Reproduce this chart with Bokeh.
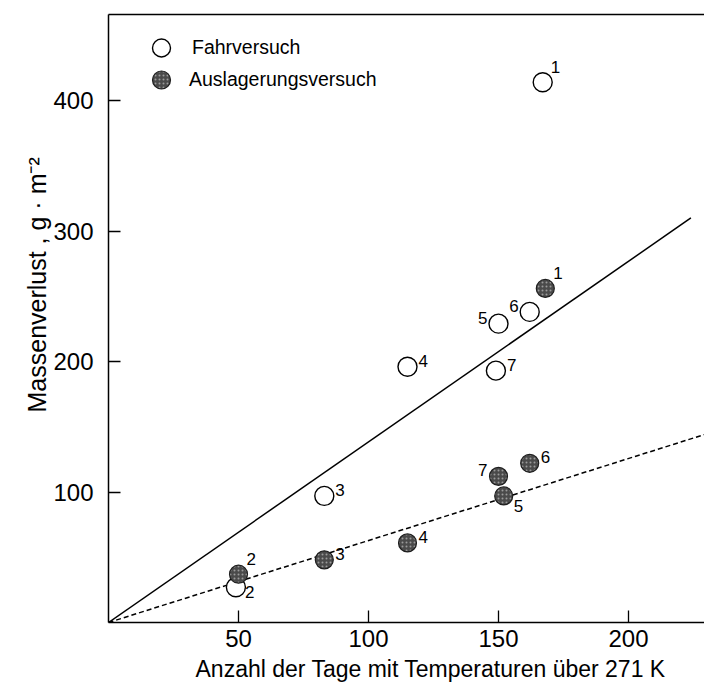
from bokeh.plotting import figure
from bokeh.models import (Range1d, LinearAxis, FixedTicker, Title, Legend,
                          LegendItem, ColumnDataSource)
from bokeh.core.properties import value
from bokeh.embed import file_html
from bokeh.resources import INLINE

# ---------------- data ----------------
fahr_id = ["1", "2", "3", "4", "5", "6", "7"]
fahr_days = [167, 49, 83, 115, 150, 162, 149]
fahr_loss = [414, 27, 97, 196, 229, 238, 193]

ausl_id = ["1", "2", "3", "4", "5", "6", "7"]
ausl_days = [168, 50, 83, 115, 152, 162, 150]
ausl_loss = [256, 37, 48, 61, 97, 122, 112]

fit_fahr_days = [0, 224]
fit_fahr_loss = [0, 310]
fit_ausl_days = [0, 230]
fit_ausl_loss = [0, 144.5]

x_ticks = [50, 100, 150, 200]
y_ticks = [100, 200, 300, 400]

series_names = ["Fahrversuch", "Auslagerungsversuch"]
x_title = "Anzahl der Tage mit Temperaturen über  271 K"
y_title = "Massenverlust , g · m⁻²"

# ---------------- styles ----------------
FONT = "Liberation Sans"
# label placement codes -> (dx, dy) in screen px, dy positive = down
offsets = {"sup": (8, -15), "r": (11, -6), "l": (-11, -6), "sub": (9, 5),
           "subr": (10, 10)}
fahr_place = {"1": "sup", "2": "sub", "3": "r", "4": "r", "5": "l", "6": "l", "7": "r"}
ausl_place = {"1": "sup", "2": "sup", "3": "r", "4": "r", "5": "subr", "6": "r", "7": "l"}


def label_source(ids, xs, ys, place):
    dx = [offsets[place[i]][0] for i in ids]
    dy = [offsets[place[i]][1] for i in ids]
    align = ["right" if d < 0 else "left" for d in dx]
    return ColumnDataSource(dict(x=xs, y=ys, t=ids, dx=dx, dy=dy, align=align))


W, H = 704, 691
BL, BT, BB = 108, 14, 69
p = figure(width=W, height=H, output_backend="svg", toolbar_location=None,
           x_range=Range1d(0, (W - BL) / 2.6), y_range=Range1d(0, (H - BT - BB) / 1.305),
           min_border_left=BL, min_border_right=0, min_border_top=BT,
           min_border_bottom=BB)
p.outline_line_color = None
p.grid.visible = False
p.background_fill_color = "white"

# fit lines
p.line(fit_fahr_days, fit_fahr_loss, line_color="black", line_width=1.5)
p.line(fit_ausl_days, fit_ausl_loss, line_color="black", line_width=1.5,
       line_dash="5 3")

# points
r_open = p.scatter(fahr_days, fahr_loss, size=19, marker="circle",
                   fill_color="white", line_color="black", line_width=1.4)
r_fill = p.scatter(ausl_days, ausl_loss, size=18, marker="circle",
                   fill_color="#4a4a4a", line_color="#1e1e1e", line_width=1.2,
                   hatch_pattern="dot", hatch_color="#9a9a9a", hatch_scale=4,
                   hatch_weight=1)

for ids, xs, ys, pl in ((fahr_id, fahr_days, fahr_loss, fahr_place),
                        (ausl_id, ausl_days, ausl_loss, ausl_place)):
    src = label_source(ids, xs, ys, pl)
    p.text(x="x", y="y", text="t", source=src, x_offset="dx", y_offset="dy",
           text_align="align", text_baseline="middle",
           text_font=value(FONT), text_font_size="17px", text_color="black")

# axes
xa = p.xaxis[0]
xa.ticker = FixedTicker(ticks=x_ticks)
ya = p.yaxis[0]
ya.ticker = FixedTicker(ticks=y_ticks)
for ax in (xa, ya):
    ax.major_tick_in = 12
    ax.major_tick_out = 0
    ax.minor_tick_line_color = None
    ax.axis_line_color = "black"
    ax.axis_line_width = 1.5
    ax.major_tick_line_color = "black"
    ax.major_tick_line_width = 1.3
    ax.major_label_text_font = FONT
    ax.major_label_text_font_size = "24px"
    ax.major_label_text_color = "black"
xa.major_label_standoff = 7
ya.major_label_standoff = 15

top = LinearAxis(ticker=FixedTicker(ticks=[]), major_tick_line_color=None,
                 minor_tick_line_color=None, major_label_text_font_size="0px",
                 axis_line_color="black", axis_line_width=1.5,
                 major_label_standoff=0)
p.add_layout(top, "above")

# axis titles, placed along the axes as in the original
title_kw = dict(text_font=FONT, text_font_style="normal", text_color="black")
p.add_layout(Title(text=x_title, align="left", offset=87, standoff=9,
                   text_font_size="23px", **title_kw), "below")
p.add_layout(Title(text=y_title, align="left", offset=210, standoff=0,
                   text_font_size="25px", **title_kw), "left")

# legend: one block per entry so that the rows sit as close as in the original
FH = H - BT - BB
leg_kw = dict(padding=0, margin=0, glyph_height=45, label_standoff=0,
              label_text_font=FONT, label_text_font_size="19.5px",
              label_text_color="black", border_line_color=None,
              background_fill_alpha=0)
leg1 = Legend(items=[LegendItem(label=series_names[0], renderers=[r_open])],
              location=(22, FH - 11 - 45), glyph_width=62, **leg_kw)
leg2 = Legend(items=[LegendItem(label=series_names[1], renderers=[r_fill])],
              location=(25, FH - 43 - 45), glyph_width=56, **leg_kw)
p.add_layout(leg1, "center")
p.add_layout(leg2, "center")

open("out.html", "w").write(file_html(p, INLINE))
